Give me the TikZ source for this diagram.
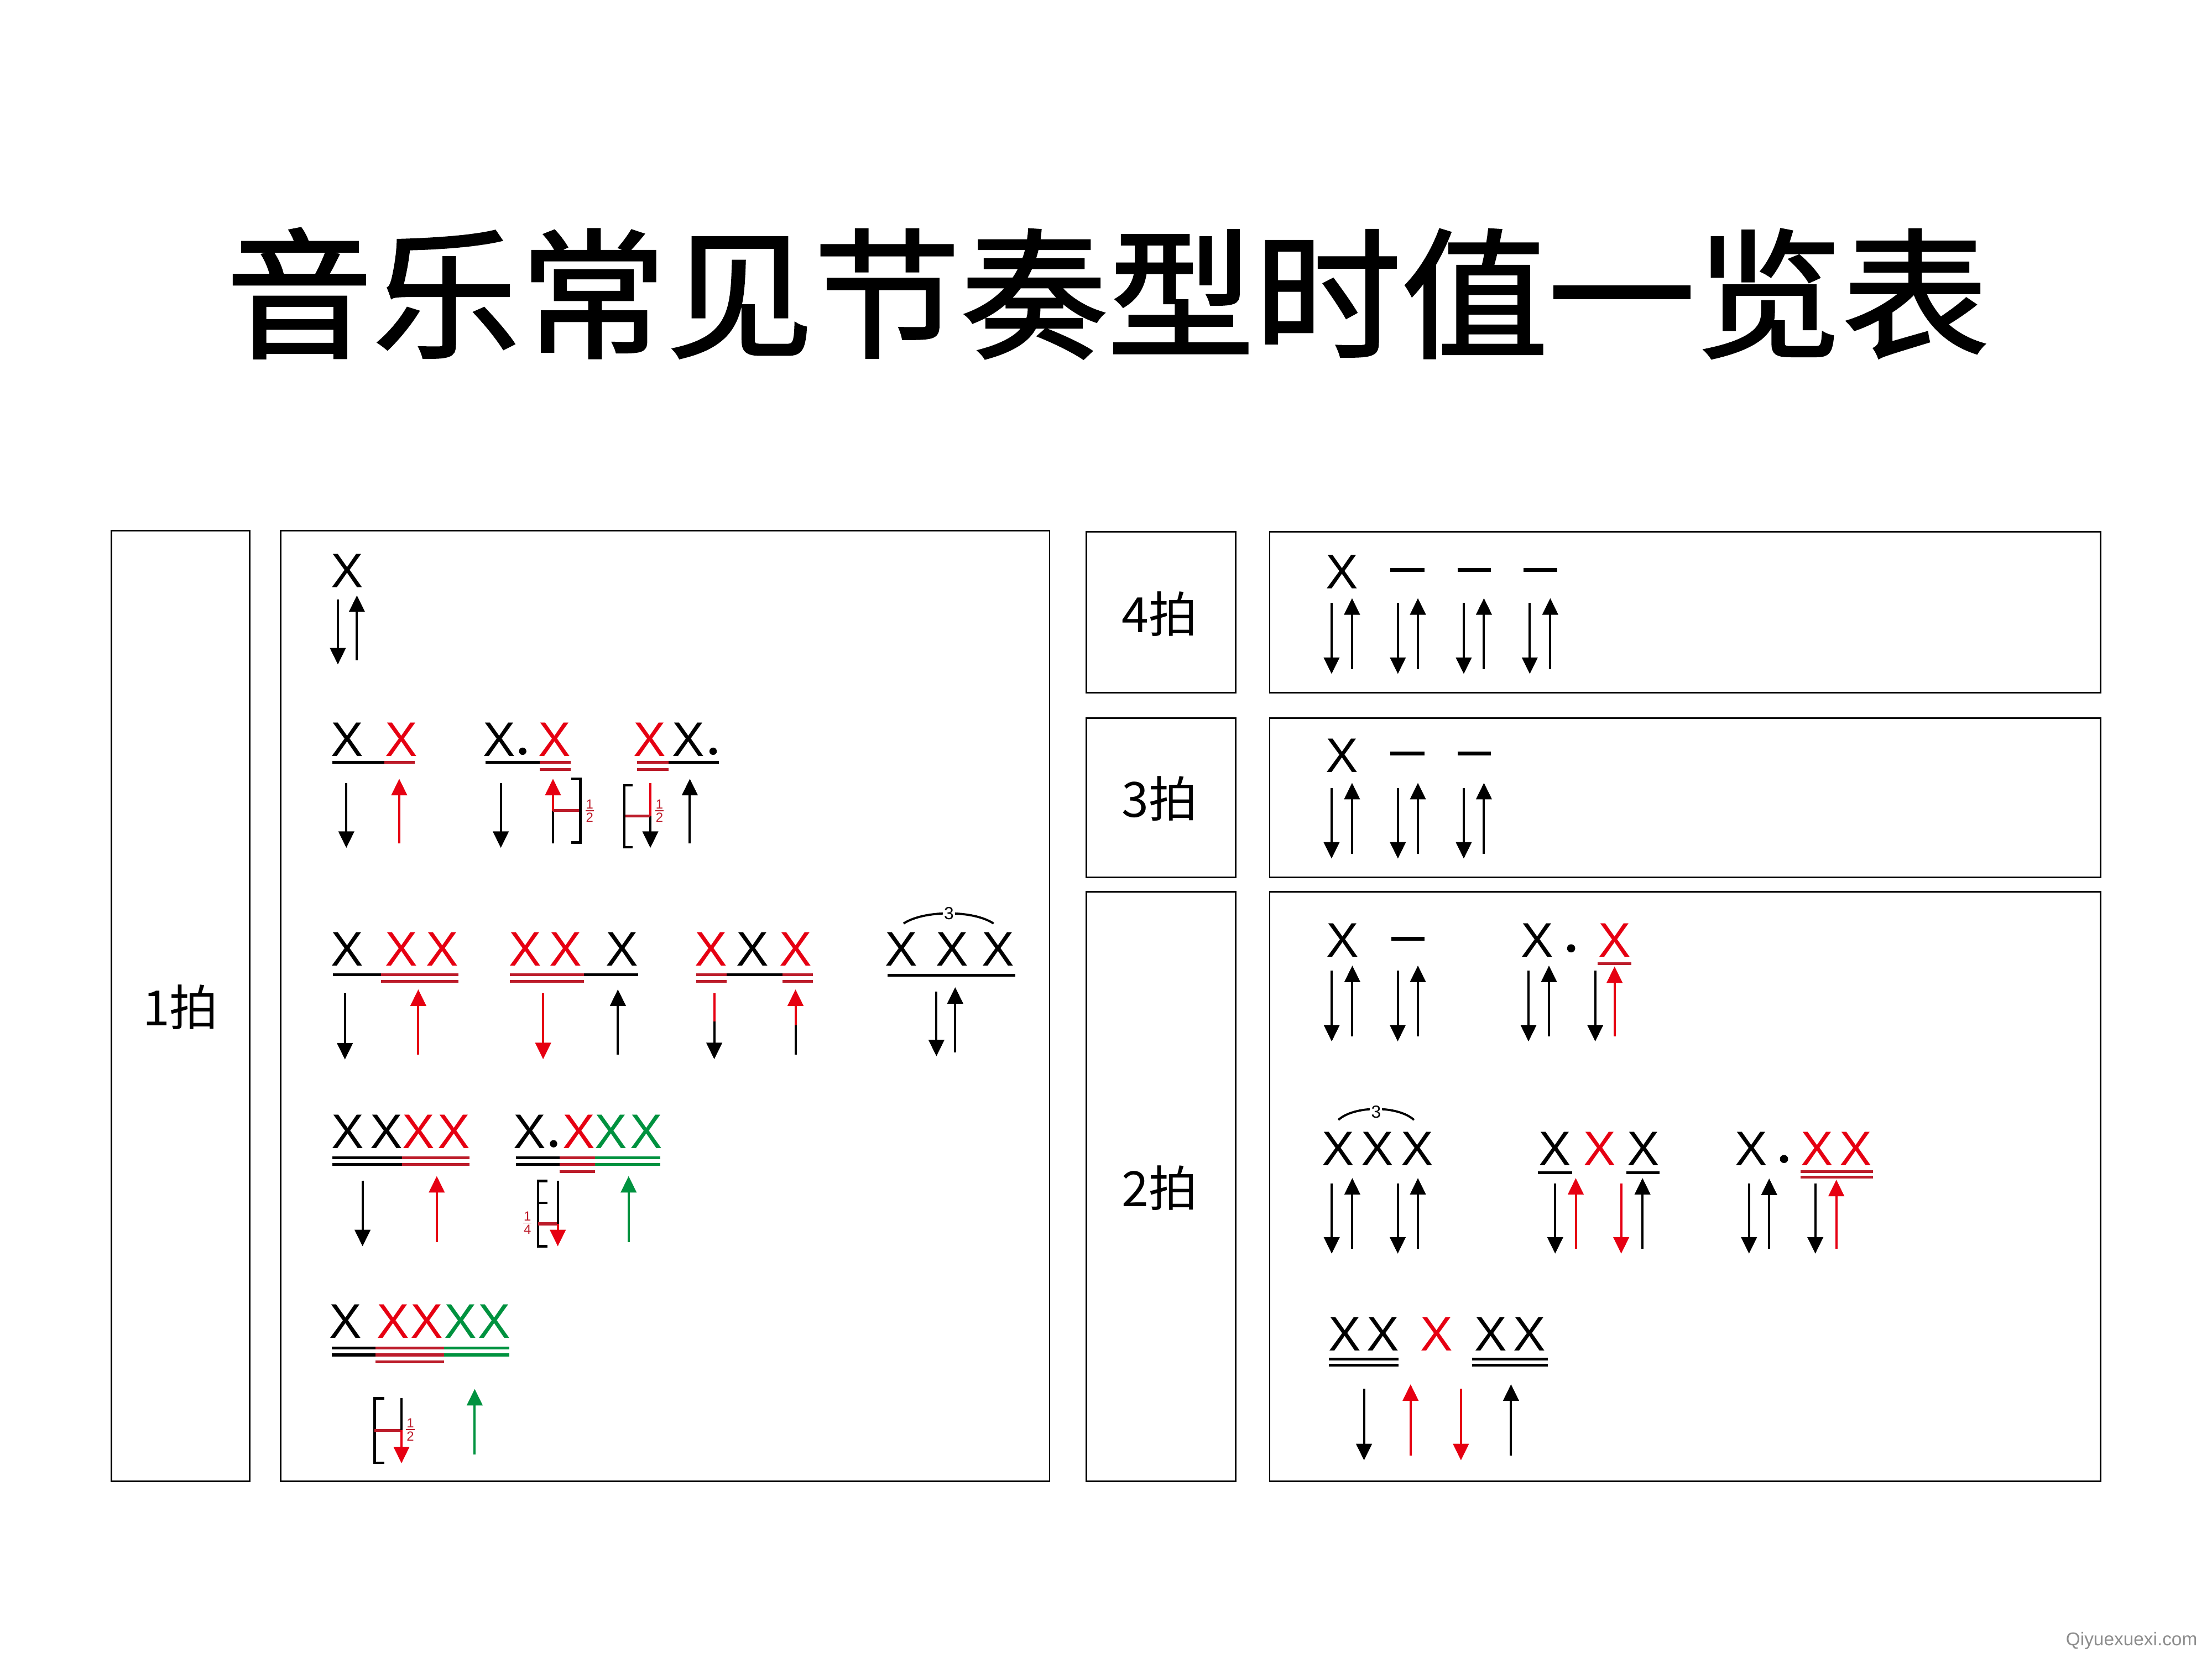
\documentclass[tikz,border=0pt]{standalone}
\usepackage{fontspec}
\setmainfont{Liberation Sans}
\newfontfamily\cjk{Noto Sans CJK SC}
\newfontfamily\cjkt{Noto Sans CJK SC}[FakeBold=1.6]
\usetikzlibrary{arrows.meta}
\definecolor{xred}{RGB}{230,0,18}
\definecolor{ured}{RGB}{188,28,42}
\definecolor{xgreen}{RGB}{0,146,63}
% X letter: name, colour, x, baseline y
\newcommand\Xn[4]{\node[xn,text=#2] (#1) at (#3,#4) {X};}
% arrow: [colour], x, from y, tip y
\newcommand\Arw[4][black]{\draw[arw,#1] (#2,#3) -- (#2,#4);}
% plain shaft segment
\newcommand\Sg[4][black]{\draw[shaft,#1] (#2,#3) -- (#2,#4);}
% underline: [colour], x1, x2, y
\newcommand\Ul[4][black]{\draw[ul,#1] (#2,#4) -- (#3,#4);}
% fraction 1/d: name, x, y(bar), denominator
\newcommand\Fr[4]{\node[fr] (#1n) at (#2,#3-4.6) {1}; \node[fr] (#1d) at (#2,#3+4.8) {#4}; \draw[frbar] (#2-3,#3) -- (#2+3,#3);}
\begin{document}
\begin{tikzpicture}[x=0.02551cm,y=-0.02551cm,
 frame/.style={line width=0.8pt,black},
 xn/.style={font=\fontsize{25}{25}\selectfont,inner sep=0,anchor=base},
 lab/.style={font=\cjk\fontsize{25}{25}\selectfont,inner sep=0},
 arw/.style={line width=1.15pt,-{Triangle[width=8pt,length=8.5pt]}},
 shaft/.style={line width=1.15pt},
 ul/.style={line width=1.45pt},
 brk/.style={line width=1.3pt,black},
 tick/.style={line width=1.45pt,ured},
 dsh/.style={line width=2pt,black},
 fr/.style={font=\fontsize{6.8}{6.8}\selectfont,text=ured,inner sep=0},
 frbar/.style={line width=0.5pt,ured},
 trip/.style={font=\fontsize{9}{9}\selectfont,fill=white,inner sep=0.6pt},
 arc/.style={line width=1.1pt,black}]
\useasboundingbox[fill=white] (0,0) rectangle (1568,1175);

% title
\node[inner sep=0] (title) at (785,208) {\scalebox{1.05}[1]{\cjkt\fontsize{72}{72}\selectfont 音乐常见节奏型时值一览表}};

% frames
\draw[frame] (79,376) rectangle (177,1050);
\draw[frame] (199,376) rectangle (744,1050);
\draw[frame] (770,377) rectangle (876,491);
\draw[frame] (900,377) rectangle (1489,491);
\draw[frame] (770,509) rectangle (876,622);
\draw[frame] (900,509) rectangle (1489,622);
\draw[frame] (770,632) rectangle (876,1050);
\draw[frame] (900,632) rectangle (1489,1050);

% labels
\node[lab] (l1) at (128,714) {1拍};
\node[lab] (l4) at (822,435) {4拍};
\node[lab] (l3) at (822,566) {3拍};
\node[lab] (l2) at (822,842) {2拍};

%%%%%%%% 1 beat %%%%%%%%
% row 1
\Xn{a1}{black}{246}{416.5}
\Arw{239.5}{425}{471}
\Arw{253}{468}{422}

% row 2 : X X
\Xn{a2}{black}{246}{536}
\Xn{a3}{xred}{284.5}{536}
\Ul{235.5}{272.5}{540.5}
\Ul[ured]{272.5}{294}{540.5}
\Arw{245.5}{555}{601}
\Arw[xred]{283}{597.7}{552}

% row 2 : X. X
\Xn{b1}{black}{354}{536}
\fill (370.5,532.5) circle[radius=1.9pt];
\Xn{b2}{xred}{393}{536}
\Ul{344}{382.5}{540.5}
\Ul[ured]{382.5}{404.5}{540.5}
\Ul[ured]{382.5}{404.5}{545.3}
\Arw{355}{555}{601}
\Sg{392}{597.7}{574.6}
\Arw[xred]{392}{574.6}{552}
\draw[tick] (392,574.6) -- (411.5,574.6);
\draw[brk] (405,552) -- (411.5,552) -- (411.5,597.2) -- (405,597.2);
\Fr{f1}{418}{574.6}{2}

% row 2 : XX.
\Xn{c1}{xred}{460.7}{536}
\Xn{c2}{black}{488}{536}
\fill (505.5,532.5) circle[radius=1.9pt];
\Ul[ured]{451.5}{474}{540.5}
\Ul[ured]{451.5}{474}{545.3}
\Ul{474}{509.5}{540.5}
\Sg[xred]{461}{555}{578.3}
\Arw{461}{578.3}{601}
\draw[tick] (442.5,578.3) -- (461,578.3);
\draw[brk] (448.5,556.7) -- (442.5,556.7) -- (442.5,600.6) -- (448.5,600.6);
\Fr{f2}{467.5}{574.6}{2}
\Arw{489}{597.7}{552}

% row 3 : X XX
\Xn{d1}{black}{246}{684.6}
\Xn{d2}{xred}{284.5}{684.6}
\Xn{d3}{xred}{313.5}{684.6}
\Ul{236}{270}{691}
\Ul[ured]{270}{325}{691}
\Ul[ured]{270}{325}{695.6}
\Arw{244.5}{704}{751}
\Arw[xred]{296.5}{747.6}{701.3}

% row 3 : XX X
\Xn{e1}{xred}{372.2}{684.6}
\Xn{e2}{xred}{401.1}{684.6}
\Xn{e3}{black}{441.1}{684.6}
\Ul[ured]{361.6}{414}{691}
\Ul[ured]{361.6}{414}{695.6}
\Ul{414}{452.2}{691}
\Arw[xred]{385}{704.2}{750.8}
\Arw{438}{747.6}{701.3}

% row 3 : XXX
\Xn{g1}{xred}{504}{684.6}
\Xn{g2}{black}{533.4}{684.6}
\Xn{g3}{xred}{563.9}{684.6}
\Ul[ured]{493.7}{515.1}{691}
\Ul[ured]{493.7}{515.1}{695.6}
\Ul{515.1}{554.8}{691}
\Ul[ured]{554.8}{576.2}{691}
\Ul[ured]{554.8}{576.2}{695.6}
\Sg[xred]{506.3}{704.2}{724}
\Arw{506.3}{724}{750.8}
\Sg{563.9}{747.6}{726.6}
\Arw[xred]{563.9}{726.6}{701.3}

% row 3 : triplet
\Xn{h1}{black}{639}{684.6}
\Xn{h2}{black}{675}{684.6}
\Xn{h3}{black}{707.6}{684.6}
\Ul{629.2}{719.7}{691.2}
\draw[arc] (640.5,654.6) .. controls (655,645) and (690,645) .. (704.3,654.6);
\node[trip] (t1) at (672.6,647.4) {3};
\Arw{663.8}{703}{748.7}
\Arw{677.1}{745.8}{699.7}

% row 4 : XXXX
\Xn{i1}{black}{246.6}{813.8}
\Xn{i2}{black}{273.8}{813.8}
\Xn{i3}{xred}{296.5}{813.8}
\Xn{i4}{xred}{321.9}{813.8}
\Ul{235.6}{285.1}{820.6}
\Ul{235.6}{285.1}{825.5}
\Ul[ured]{285.1}{332.7}{820.6}
\Ul[ured]{285.1}{332.7}{825.5}
\Arw{257}{836.8}{883.4}
\Arw[xred]{309.6}{880.4}{833.6}

% row 4 : X.XXX
\Xn{j1}{black}{375.5}{813.8}
\fill (392.4,810.7) circle[radius=1.9pt];
\Xn{j2}{xred}{410.3}{813.8}
\Xn{j3}{xgreen}{433}{813.8}
\Xn{j4}{xgreen}{458}{813.8}
\Ul{365.6}{396.6}{820.6}
\Ul{365.6}{396.6}{825.5}
\Ul[ured]{396.6}{421.6}{820.6}
\Ul[ured]{396.6}{421.6}{825.5}
\Ul[ured]{396.6}{421.6}{830.6}
\Ul[xgreen]{421.6}{468}{820.6}
\Ul[xgreen]{421.6}{468}{825.5}
\draw[brk] (387.9,837.2) -- (381.4,837.2) -- (381.4,883.4) -- (387.9,883.4);
\draw[brk] (381.4,852.6) -- (387.9,852.6);
\draw[tick] (381.4,867.5) -- (395.4,867.5);
\Sg{395.4}{836.8}{867.5}
\Arw[xred]{395.4}{867.5}{883.4}
\Fr{f3}{373.9}{866.9}{4}
\Arw[xgreen]{445.6}{880.4}{833.6}

% row 5 : X XXXX
\Xn{k1}{black}{245}{948.6}
\Xn{k2}{xred}{278.6}{948.6}
\Xn{k3}{xred}{302.5}{948.6}
\Xn{k4}{xgreen}{326.6}{948.6}
\Xn{k5}{xgreen}{350.4}{948.6}
\Ul{235.2}{266.3}{955.4}
\Ul{235.2}{266.3}{960.4}
\Ul[ured]{266.3}{314.9}{955.4}
\Ul[ured]{266.3}{314.9}{960.4}
\Ul[ured]{266.3}{314.9}{965.2}
\Ul[xgreen]{314.9}{360.9}{955.4}
\Ul[xgreen]{314.9}{360.9}{960.4}
\draw[brk] (272.4,991.1) -- (265.5,991.1) -- (265.5,1036.8) -- (272.4,1036.8);
\draw[tick] (265.5,1013.9) -- (284.6,1013.9);
\Sg{284.6}{991.1}{1013.9}
\Arw[xred]{284.6}{1013.9}{1037.2}
\Fr{f4}{290.9}{1013.3}{2}
\Arw[xgreen]{336.5}{1031}{984.5}

%%%%%%%% 4 beats %%%%%%%%
\Xn{m1}{black}{951.3}{417.2}
\draw[dsh] (985.6,404) -- (1009.9,404);
\draw[dsh] (1033.2,404) -- (1056.9,404);
\draw[dsh] (1079.9,404) -- (1103.7,404);
\foreach \dx/\ux in {943.9/958.4,990.9/1005.1,1037.6/1051.9,1084.4/1098.9}{
  \Arw{\dx}{427.3}{477.7}
  \Arw{\ux}{474.4}{424}
}

%%%%%%%% 3 beats %%%%%%%%
\Xn{n1}{black}{951.3}{547.3}
\draw[dsh] (985.6,534.1) -- (1009.9,534.1);
\draw[dsh] (1033.2,534.1) -- (1056.9,534.1);
\foreach \dx/\ux in {943.9/958.4,990.9/1005.1,1037.6/1051.9}{
  \Arw{\dx}{558.5}{608.6}
  \Arw{\ux}{605.3}{554.9}
}

%%%%%%%% 2 beats %%%%%%%%
% row A : X -
\Xn{p1}{black}{951.5}{678.4}
\draw[dsh] (986.4,665.4) -- (1009.8,665.4);
\foreach \dx/\ux in {944/958.6,990.8/1005.1}{
  \Arw{\dx}{687.9}{738.2}
  \Arw{\ux}{734.6}{684.4}
}
% row A : X. X
\Xn{p2}{black}{1089.8}{678.4}
\fill (1113.7,672.2) circle[radius=2.1pt];
\Xn{p3}{xred}{1144.6}{678.4}
\Ul[ured]{1132.4}{1156.3}{683.1}
\Arw{1083.5}{687.9}{738.2}
\Arw{1098}{734.6}{684.4}
\Arw{1130.8}{687.9}{738.2}
\Arw[xred]{1144.5}{734.6}{685}

% row B : triplet
\Xn{q1}{black}{948.4}{826.2}
\Xn{q2}{black}{976.5}{826.2}
\Xn{q3}{black}{1004.5}{826.2}
\draw[arc] (948.7,793.8) .. controls (960,783.5) and (991,783.5) .. (1002.3,793.8);
\node[trip] (t2) at (975.4,788) {3};
\foreach \dx/\ux in {944/958.6,990.8/1005.1}{
  \Arw{\dx}{838.7}{888.6}
  \Arw{\ux}{885.3}{835}
}
% row B : X X X
\Xn{r1}{black}{1102.4}{826.2}
\Xn{r2}{xred}{1133.8}{826.2}
\Xn{r3}{black}{1164.9}{826.2}
\Ul{1090.3}{1114.3}{831.1}
\Ul{1152.8}{1176.4}{831.1}
\Arw{1102.4}{838.7}{888.6}
\Arw[xred]{1117}{885.3}{835}
\Arw[xred]{1149.2}{838.7}{888.6}
\Arw{1164.3}{885.3}{835}
% row B : X. XX
\Xn{s1}{black}{1241.2}{826.2}
\fill (1264.6,821.5) circle[radius=2.1pt];
\Xn{s2}{xred}{1288}{826.2}
\Xn{s3}{xred}{1315.5}{826.2}
\Ul[ured]{1276.4}{1327.6}{830.4}
\Ul[ured]{1276.4}{1327.6}{834.4}
\Arw{1239.8}{838.7}{888.6}
\Arw{1254.1}{885.3}{835.3}
\Arw{1286.8}{838.7}{888.6}
\Arw[xred]{1301.7}{885.3}{836.2}

% row C : XX X XX
\Xn{u1}{black}{953.1}{957.5}
\Xn{u2}{black}{980.3}{957.5}
\Xn{u3}{xred}{1018.2}{957.5}
\Xn{u4}{black}{1056.7}{957.5}
\Xn{u5}{black}{1084.2}{957.5}
\Ul{941.8}{991.4}{963.2}
\Ul{941.8}{991.4}{967.6}
\Ul{1043.6}{1097.3}{963.2}
\Ul{1043.6}{1097.3}{967.6}
\Arw{966.9}{984.5}{1035.1}
\Arw[xred]{999.9}{1031.8}{981.2}
\Arw[xred]{1035.6}{984.5}{1035.1}
\Arw{1071.1}{1031.8}{981.2}

% watermark
\node[font=\fontsize{9.5}{9.5}\selectfont,text=black!45,inner sep=0] (wm) at (1511,1163) {Qiyuexuexi.com};
\end{tikzpicture}
\end{document}
